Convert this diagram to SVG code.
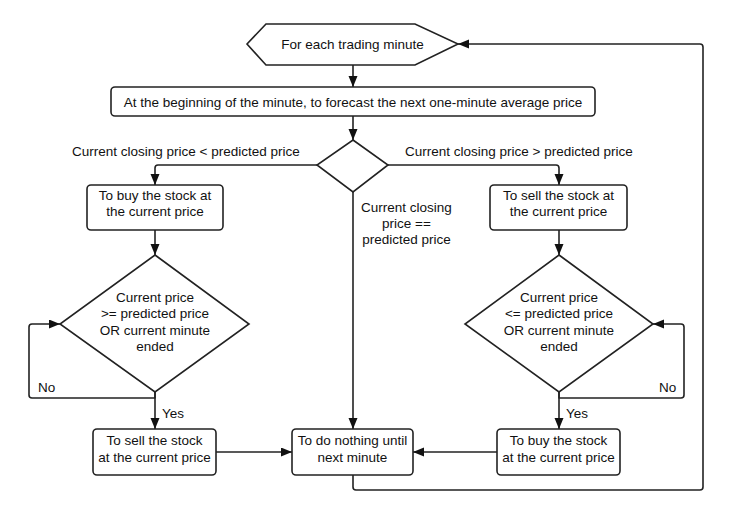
<svg xmlns="http://www.w3.org/2000/svg" width="736" height="509" viewBox="0 0 736 509">
<defs>
<marker id="ah" markerUnits="userSpaceOnUse" markerWidth="12" markerHeight="10" refX="11" refY="4.5" orient="auto">
<path d="M0,0 L11,4.5 L0,9 z" fill="#111"/>
</marker>
<style>
.n{fill:#fff;stroke:#222;stroke-width:1.6;}
.t{font-family:"Liberation Sans",Arial,sans-serif;font-size:13.5px;fill:#111;text-anchor:middle;}
.l{font-family:"Liberation Sans",Arial,sans-serif;font-size:13.5px;fill:#111;}
.c{fill:none;stroke:#222;stroke-width:1.6;stroke-linejoin:round;}
.a{marker-end:url(#ah);}
</style>
</defs>
<rect width="736" height="509" fill="#fff"/>
<g id="connectors">
<path class="c a" d="M353,65 V87"/>
<path class="c a" d="M353,116 V140"/>
<path class="c a" d="M317,165 H158 Q155,165 155,168 V185"/>
<path class="c a" d="M388,165 H556 Q559,165 559,168 V185"/>
<path class="c a" d="M353,192 V429"/>
<path class="c a" d="M155,230 V255"/>
<path class="c a" d="M559,230 V255"/>
<path class="c a" d="M155,392 V429"/>
<path class="c a" d="M559,392 V429"/>
<path class="c a" d="M155,392 V398 H32 Q29,398 29,395 V327 Q29,324 32,324 H60"/>
<path class="c a" d="M559,392 V398 H681 Q684,398 684,395 V327 Q684,324 681,324 H653"/>
<path class="c a" d="M216,452 H292"/>
<path class="c a" d="M497,452 H413"/>
<path class="c a" d="M353,475 V487 Q353,490 356,490 H700 Q703,490 703,487 V47 Q703,44 700,44 H458"/>
<text class="l" x="72" y="156">Current closing price &lt; predicted price</text>
<text class="l" x="405" y="156">Current closing price &gt; predicted price</text>
<text class="t" x="406.5" y="212">Current closing</text>
<text class="t" x="406.5" y="228">price ==</text>
<text class="t" x="406.5" y="244">predicted price</text>
<text class="l" x="38" y="392">No</text>
<text class="l" x="162" y="418">Yes</text>
<text class="l" x="659" y="392">No</text>
<text class="l" x="566" y="418">Yes</text>
</g>
<g id="start">
<polygon class="n" points="247,44 266,24 415,24 458,44 415,65 266,65"/>
<text class="t" x="352.5" y="49">For each trading minute</text>
</g>
<g id="forecast">
<rect class="n" x="111" y="87" width="484" height="29" rx="4"/>
<text class="t" x="353" y="106.5">At the beginning of the minute, to forecast the next one-minute average price</text>
</g>
<g id="decision">
<polygon class="n" points="353,140 388,165 353,192 317,165"/>
</g>
<g id="buy1">
<rect class="n" x="87" y="185" width="136" height="45" rx="4"/>
<text class="t" x="155" y="200">To buy the stock at</text>
<text class="t" x="155" y="216">the current price</text>
</g>
<g id="sell1">
<rect class="n" x="490" y="185" width="137" height="45" rx="4"/>
<text class="t" x="558.5" y="200">To sell the stock at</text>
<text class="t" x="558.5" y="216">the current price</text>
</g>
<g id="checkLeft">
<polygon class="n" points="155,255 249,324 155,392 60,324"/>
<text class="t" x="155" y="302">Current price</text>
<text class="t" x="155" y="318">&gt;= predicted price</text>
<text class="t" x="155" y="335">OR current minute</text>
<text class="t" x="155" y="351">ended</text>
</g>
<g id="checkRight">
<polygon class="n" points="559,255 653,324 559,392 465,324"/>
<text class="t" x="559" y="302">Current price</text>
<text class="t" x="559" y="318">&lt;= predicted price</text>
<text class="t" x="559" y="335">OR current minute</text>
<text class="t" x="559" y="351">ended</text>
</g>
<g id="sell2">
<rect class="n" x="93" y="429" width="123" height="46" rx="4"/>
<text class="t" x="154.5" y="445">To sell the stock</text>
<text class="t" x="154.5" y="462">at the current price</text>
</g>
<g id="nothing">
<rect class="n" x="292" y="429" width="121" height="46" rx="4"/>
<text class="t" x="352.5" y="445">To do nothing until</text>
<text class="t" x="352.5" y="462">next minute</text>
</g>
<g id="buy2">
<rect class="n" x="497" y="429" width="123" height="46" rx="4"/>
<text class="t" x="558.5" y="445">To buy the stock</text>
<text class="t" x="558.5" y="462">at the current price</text>
</g>
</svg>
